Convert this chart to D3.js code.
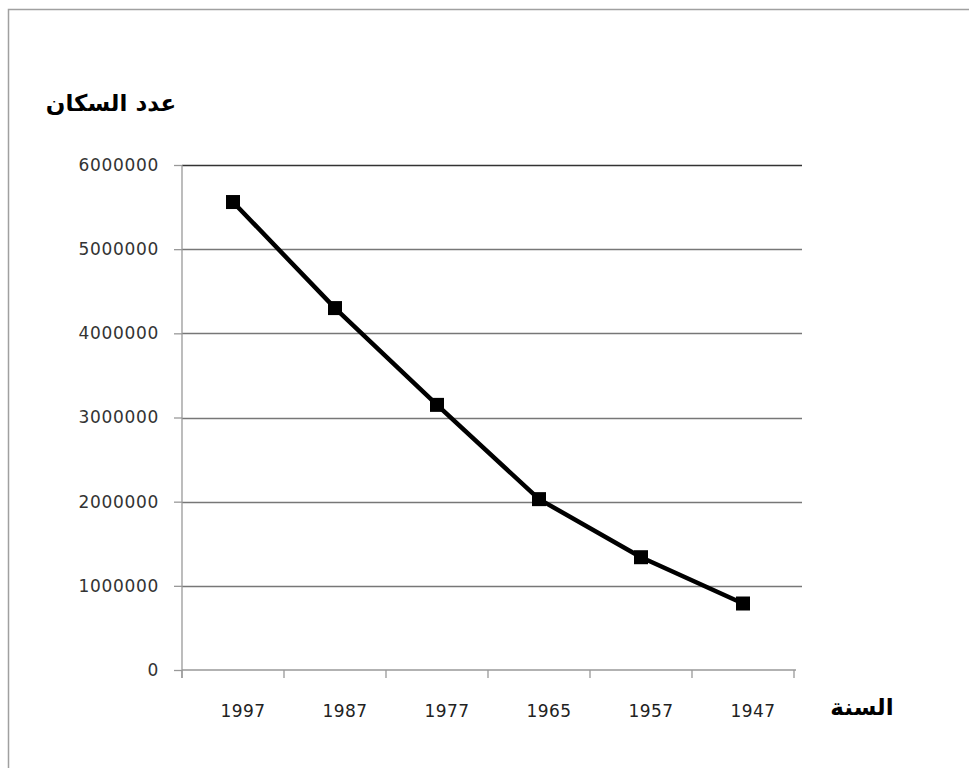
<!DOCTYPE html>
<html><head><meta charset="utf-8">
<script src="https://cdn.jsdelivr.net/npm/d3@7"></script>
<style>body{margin:0;background:#fff}svg{display:block}</style>
</head><body><svg id="c" width="969" height="768"></svg>
<script>
const years = ["1997","1987","1977","1965","1957","1947"];
const population = [5560000,4300000,3150000,2030000,1340000,790000];
const yTicks = [0,1000000,2000000,3000000,4000000,5000000,6000000];
const yTitle = "عدد السكان";
const xTitle = "السنة";

const svg = d3.select("#c");
svg.append("rect").attr("x",8.5).attr("y",9.5).attr("width",990).attr("height",800)
  .attr("fill","#fff").attr("stroke","#a0a0a0").attr("stroke-width",1.5);

const x = d3.scaleBand().domain(years).range([182,794]);
const y = d3.scaleLinear().domain([0,6000000]).range([670,165]);

// gridlines
svg.append("g").selectAll("line").data(yTicks.filter(d=>d>0)).join("line")
  .attr("x1",182).attr("x2",802)
  .attr("y1",d=>Math.round(y(d))+0.5).attr("y2",d=>Math.round(y(d))+0.5)
  .attr("stroke",d=>d===6000000?"#333":"#777").attr("stroke-width",1.3);

// y axis
const gy = svg.append("g").attr("transform","translate(182,0)")
  .call(d3.axisLeft(y).tickValues(yTicks).tickFormat(d3.format("d")).tickSize(8).tickPadding(15));
gy.select(".domain").attr("stroke","#999").attr("stroke-width",1.3).attr("d","M0,165V678");
gy.selectAll(".tick line").attr("stroke","#999").attr("stroke-width",1.3);
gy.selectAll("text").attr("font-family","DejaVu Sans").attr("font-size",17).attr("fill","#333")
  .attr("letter-spacing",0.7);

// x axis
const gx = svg.append("g").attr("transform","translate(0,670)")
  .call(d3.axisBottom(x).tickSize(0).tickPadding(35));
gx.select(".domain").attr("stroke","#999").attr("stroke-width",1.3).attr("d","M182,0H796");
gx.selectAll("text").attr("font-family","DejaVu Sans").attr("font-size",17).attr("fill","#222")
  .attr("dx",10).attr("letter-spacing",0.5);
gx.selectAll("line.edge").data(years.map(d=>x(d)).concat([x.range()[1]])).join("line")
  .attr("class","edge").attr("x1",d=>d).attr("x2",d=>d).attr("y1",0).attr("y2",8)
  .attr("stroke","#999").attr("stroke-width",1.3);

// line
const pts = years.map((yr,i)=>[x(yr)+x.bandwidth()/2, y(population[i])]);
svg.append("path").attr("d",d3.line()(pts)).attr("fill","none")
  .attr("stroke","#000").attr("stroke-width",4.5).attr("stroke-linejoin","round");
svg.append("g").selectAll("rect").data(pts).join("rect")
  .attr("x",d=>d[0]-7).attr("y",d=>d[1]-7).attr("width",14).attr("height",14).attr("fill","#000");

// titles
svg.append("text").attr("x",111).attr("y",111).attr("text-anchor","middle")
  .attr("font-family","DejaVu Sans").attr("font-weight","bold").attr("font-size",23)
  .attr("fill","#000").text(yTitle);
svg.append("text").attr("x",862).attr("y",715).attr("text-anchor","middle")
  .attr("font-family","DejaVu Sans").attr("font-weight","bold").attr("font-size",23)
  .attr("fill","#000").text(xTitle);
</script></body></html>
